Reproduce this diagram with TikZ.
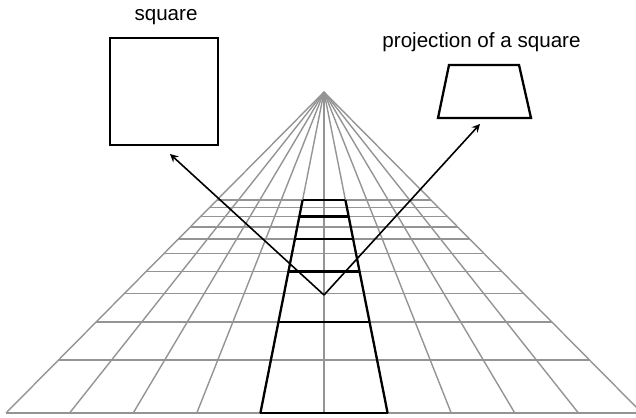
\documentclass[tikz,border=0pt]{standalone}
\usepackage{fontspec}
\setmainfont{Liberation Sans}
\usetikzlibrary{arrows,positioning,calc}

\begin{document}
\begin{tikzpicture}[
    x=0.5pt, y=-0.5pt,
    gridline/.style={draw=black!42, line width=0.7pt},
    boldline/.style={draw=black, line width=1.15pt},
    arrow/.style={->, >=stealth, line width=0.8pt},
    frame/.style={draw, line width=1.15pt},
    caption/.style={font=\fontsize{10.3}{12}\selectfont, inner sep=0pt, anchor=base},
]
    \useasboundingbox (0,0) rectangle (636,417);
    \clip (0,0) rectangle (636,417);

    % vanishing point and ground plane
    \coordinate (vp) at (324,92);
    \foreach \j in {-5,...,5}
        \draw[gridline] (vp) -- ({324+63.6*\j},413);
    \foreach \k in {0,...,10} {
        \pgfmathsetmacro{\d}{321*5.07/(5.07+\k)}
        \pgfmathsetmacro{\w}{0.9907*\d}
        \draw[gridline] ({324-\w},{92+\d}) -- ({324+\w},{92+\d});
    }

    % column of projected squares
    \pgfmathsetmacro{\dtop}{321*5.07/(5.07+10)}
    \pgfmathsetmacro{\wtop}{0.19813*\dtop}
    \draw[boldline] ({324-63.6},413) -- ({324-\wtop},{92+\dtop});
    \draw[boldline] ({324+63.6},413) -- ({324+\wtop},{92+\dtop});
    \foreach \k in {0,2,...,10} {
        \pgfmathsetmacro{\d}{321*5.07/(5.07+\k)}
        \pgfmathsetmacro{\w}{0.19813*\d}
        \draw[boldline] ({324-\w},{92+\d}) -- ({324+\w},{92+\d});
    }

    % square and its projection
    \node[frame, minimum width=54pt, minimum height=53.5pt] (sq) at (164,91.5) {};
    \node[caption] (sqlabel) at (166,21) {square};
    \draw[frame] (449,65) -- (519,65) -- (531,118) -- (438,118) -- cycle;
    \node[caption] (projlabel) at (481.5,48) {projection of a square};

    \coordinate (c) at (324,295);
    \coordinate (sqtip) at (170,154);
    \coordinate (projtip) at (480,124);
    \draw[arrow] (c) -- (sqtip);
    \draw[arrow] (c) -- (projtip);
\end{tikzpicture}
\end{document}
